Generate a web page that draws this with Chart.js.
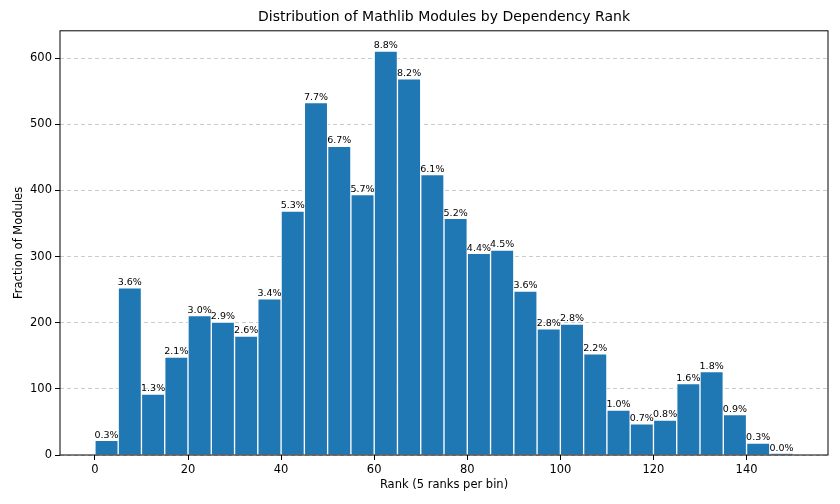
<!DOCTYPE html>
<html>
<head>
<meta charset="utf-8">
<script src="https://cdn.jsdelivr.net/npm/chart.js@4/dist/chart.umd.min.js"></script>
<style>
  html, body { margin: 0; padding: 0; background: #fff; }
  #wrap { width: 840px; height: 504px; }
</style>
</head>
<body>
<div id="wrap"><canvas id="rankChart"></canvas></div>
<script>
// bins of 5 ranks: left edges 0, 5, ..., 145
const binStarts = [0, 5, 10, 15, 20, 25, 30, 35, 40, 45, 50, 55, 60, 65, 70,
                   75, 80, 85, 90, 95, 100, 105, 110, 115, 120, 125, 130, 135, 140, 145];
const moduleCounts = [22, 253, 92, 148, 211, 201, 180, 236, 369, 533, 467, 394, 611, 569, 424,
                      358, 305, 310, 248, 191, 198, 153, 68, 47, 53, 108, 126, 61, 18, 2];
const percentLabels = ['0.3%', '3.6%', '1.3%', '2.1%', '3.0%', '2.9%', '2.6%', '3.4%', '5.3%', '7.7%',
                       '6.7%', '5.7%', '8.8%', '8.2%', '6.1%', '5.2%', '4.4%', '4.5%', '3.6%', '2.8%',
                       '2.8%', '2.2%', '1.0%', '0.7%', '0.8%', '1.6%', '1.8%', '0.9%', '0.3%', '0.0%'];
const xTicks = [0, 20, 40, 60, 80, 100, 120, 140];
const yTicks = [0, 100, 200, 300, 400, 500, 600];

const binWidth = 5;
const FONT = "'DejaVu Sans', sans-serif";

// full box around the plot area, like matplotlib spines
const frame = {
    id: 'frame',
    afterDatasetsDraw(chart) {
        const { ctx, chartArea: a } = chart;
        ctx.save();
        ctx.strokeStyle = '#000';
        ctx.lineWidth = 1;
        ctx.strokeRect(a.left, a.top, a.right - a.left, a.bottom - a.top);
        ctx.restore();
    }
};

// percentage text on top of every bar
const barLabels = {
    id: 'barLabels',
    afterDatasetsDraw(chart) {
        const { ctx } = chart;
        const meta = chart.getDatasetMeta(0);
        ctx.save();
        ctx.font = '9.5px ' + FONT;
        ctx.fillStyle = '#000';
        ctx.textAlign = 'center';
        ctx.textBaseline = 'bottom';
        meta.data.forEach((bar, i) => {
            ctx.fillText(percentLabels[i], bar.x, bar.y - 0.5);
        });
        ctx.restore();
    }
};

function createChart() {
    const ctx = document.getElementById('rankChart').getContext('2d');
    const points = binStarts.map((s, i) => ({ x: s + binWidth / 2, y: moduleCounts[i] }));
    return new Chart(ctx, {
        type: 'bar',
        data: {
            datasets: [{
                data: points,
                backgroundColor: '#1f77b4',
                borderColor: '#ffffff',
                borderWidth: 1,
                barPercentage: 1,
                categoryPercentage: 1
            }]
        },
        options: {
            responsive: true,
            maintainAspectRatio: false,
            animation: false,
            layout: { padding: { left: 0, right: 12, top: 0, bottom: 0 } },
            plugins: {
                legend: { display: false },
                tooltip: { enabled: false },
                title: {
                    display: true,
                    fullSize: false,
                    text: 'Distribution of Mathlib Modules by Dependency Rank',
                    color: '#000',
                    font: { family: FONT, size: 14, weight: 'normal' },
                    padding: { top: 9, bottom: 5 }
                }
            },
            scales: {
                x: {
                    type: 'linear',
                    offset: false,
                    min: -7.5,
                    max: 157.5,
                    afterBuildTicks(scale) { scale.ticks = xTicks.map(v => ({ value: v })); },
                    afterFit(scale) { scale.height = 49; },
                    ticks: { color: '#000', font: { family: FONT, size: 11.5 }, padding: 3, maxRotation: 0 },
                    grid: { offset: false, drawOnChartArea: false, drawTicks: true, tickLength: 5, tickColor: '#000' },
                    border: { display: false },
                    title: {
                        display: true,
                        text: 'Rank (5 ranks per bin)',
                        color: '#000',
                        font: { family: FONT, size: 11.5 },
                        padding: { top: 0, bottom: 12 }
                    }
                },
                y: {
                    min: 0,
                    max: 611 * 1.05,
                    afterBuildTicks(scale) { scale.ticks = yTicks.map(v => ({ value: v })); },
                    afterFit(scale) { scale.width = 60; },
                    ticks: { color: '#000', font: { family: FONT, size: 11.5 }, padding: 3 },
                    grid: {
                        color: 'rgba(0,0,0,0.2)',
                        tickLength: 5,
                        tickColor: '#000',
                        tickBorderDash: []
                    },
                    border: { display: false, dash: [4, 3] },
                    title: {
                        display: true,
                        text: 'Fraction of Modules',
                        color: '#000',
                        font: { family: FONT, size: 11.5 },
                        padding: { top: 12, bottom: 0 }
                    }
                }
            }
        },
        plugins: [frame, barLabels]
    });
}

createChart();
</script>
</body>
</html>
